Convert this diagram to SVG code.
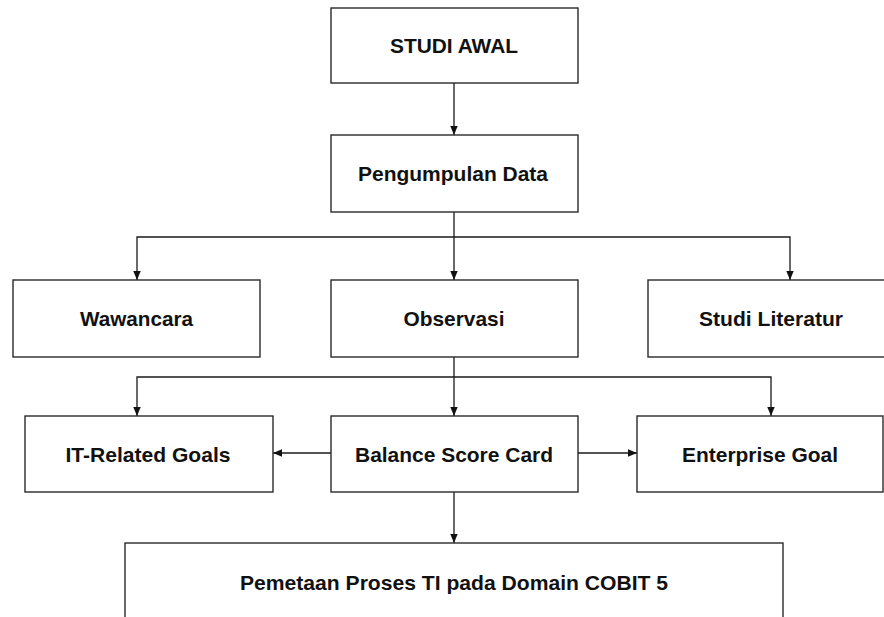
<svg xmlns="http://www.w3.org/2000/svg" width="884" height="617" viewBox="0 0 884 617">
  <style>
    .box { fill: #ffffff; stroke: #2a2a2a; stroke-width: 1.4; }
    .lbl { font-family: "Liberation Sans", Arial, sans-serif; font-weight: bold; font-size: 21px; fill: #111111; text-anchor: middle; }
    .conn { fill: none; stroke: #1a1a1a; stroke-width: 1.3; }
  </style>
  <defs>
    <marker id="arr" viewBox="0 0 9 9" refX="9" refY="4.5" markerWidth="9" markerHeight="9" markerUnits="userSpaceOnUse" orient="auto">
      <path d="M0,0.8 L9,4.5 L0,8.2 z" fill="#111111"/>
    </marker>
  </defs>
  <rect width="884" height="617" fill="#ffffff"/>

  <g id="connectors">
    <line class="conn" x1="454" y1="83" x2="454" y2="135" marker-end="url(#arr)"/>
    <line class="conn" x1="454" y1="212" x2="454" y2="280" marker-end="url(#arr)"/>
    <polyline class="conn" points="454,237 137,237 137,280" marker-end="url(#arr)"/>
    <polyline class="conn" points="454,237 790,237 790,280" marker-end="url(#arr)"/>
    <line class="conn" x1="454" y1="357" x2="454" y2="416" marker-end="url(#arr)"/>
    <polyline class="conn" points="454,377 137,377 137,416" marker-end="url(#arr)"/>
    <polyline class="conn" points="454,377 771,377 771,416" marker-end="url(#arr)"/>
    <line class="conn" x1="331" y1="453" x2="273" y2="453" marker-end="url(#arr)"/>
    <line class="conn" x1="578" y1="453" x2="637" y2="453" marker-end="url(#arr)"/>
    <line class="conn" x1="454" y1="492" x2="454" y2="543" marker-end="url(#arr)"/>
  </g>

  <g id="studi-awal">
    <rect class="box" x="331" y="8" width="247" height="75"/>
    <text class="lbl" x="454" y="53" textLength="128" lengthAdjust="spacingAndGlyphs">STUDI AWAL</text>
  </g>
  <g id="pengumpulan-data">
    <rect class="box" x="331" y="135" width="247" height="77"/>
    <text class="lbl" x="453" y="180.5" textLength="190" lengthAdjust="spacingAndGlyphs">Pengumpulan Data</text>
  </g>
  <g id="wawancara">
    <rect class="box" x="13" y="280" width="247" height="77"/>
    <text class="lbl" x="136.5" y="326" textLength="113" lengthAdjust="spacingAndGlyphs">Wawancara</text>
  </g>
  <g id="observasi">
    <rect class="box" x="331" y="280" width="247" height="77"/>
    <text class="lbl" x="454" y="326" textLength="101" lengthAdjust="spacingAndGlyphs">Observasi</text>
  </g>
  <g id="studi-literatur">
    <rect class="box" x="648" y="280" width="240" height="77"/>
    <text class="lbl" x="771" y="326" textLength="144" lengthAdjust="spacingAndGlyphs">Studi Literatur</text>
  </g>
  <g id="it-related-goals">
    <rect class="box" x="25" y="416" width="248" height="76"/>
    <text class="lbl" x="148" y="461.5" textLength="165" lengthAdjust="spacingAndGlyphs">IT-Related Goals</text>
  </g>
  <g id="balance-score-card">
    <rect class="box" x="331" y="416" width="247" height="76"/>
    <text class="lbl" x="454" y="461.5" textLength="198" lengthAdjust="spacingAndGlyphs">Balance Score Card</text>
  </g>
  <g id="enterprise-goal">
    <rect class="box" x="637" y="416" width="246" height="76"/>
    <text class="lbl" x="760" y="461.5" textLength="156" lengthAdjust="spacingAndGlyphs">Enterprise Goal</text>
  </g>
  <g id="pemetaan">
    <rect class="box" x="125" y="543" width="658" height="90"/>
    <text class="lbl" x="454" y="589.5" textLength="428" lengthAdjust="spacingAndGlyphs">Pemetaan Proses TI pada Domain COBIT 5</text>
  </g>
</svg>
